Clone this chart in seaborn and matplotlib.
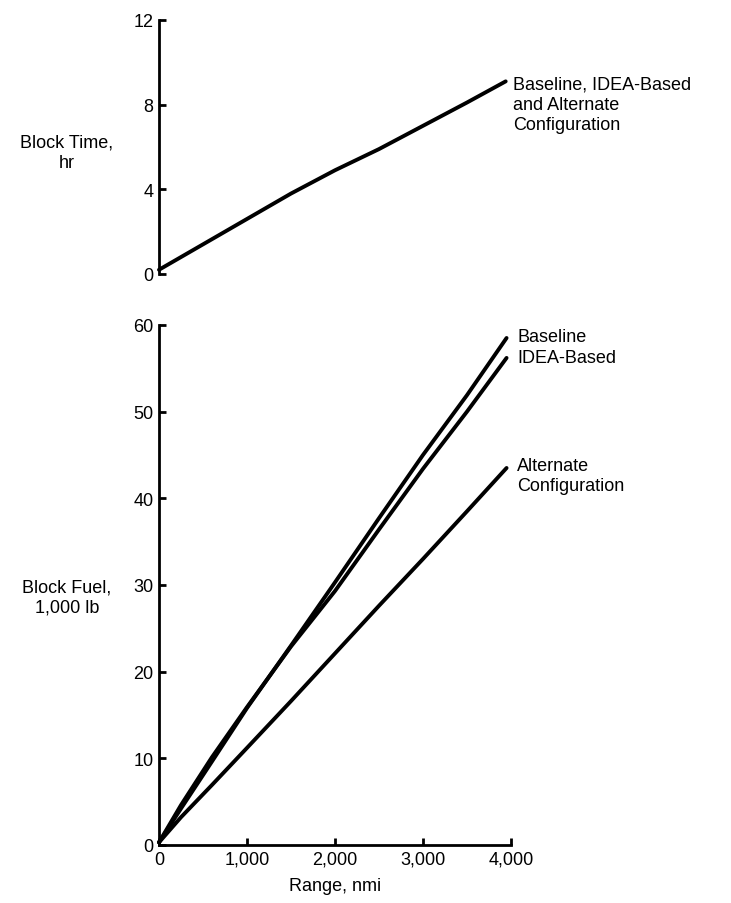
import matplotlib
matplotlib.use("Agg")
import matplotlib.pyplot as plt
import seaborn as sns
import pandas as pd

# ======================
# DATA
# ======================
time_range = [0, 500, 1000, 1500, 2000, 2500, 3000, 3500, 3940]
block_time = [0.2, 1.4, 2.6, 3.8, 4.9, 5.9, 7.0, 8.1, 9.1]

fuel_range = [0, 250, 600, 1000, 1500, 2000, 2500, 3000, 3500, 3950]
fuel_baseline = [0.3, 4.2, 9.6, 15.8, 23.0, 30.3, 37.7, 45.0, 51.9, 58.5]
fuel_idea = [0.3, 4.6, 10.1, 15.9, 22.9, 29.3, 36.4, 43.4, 50.0, 56.2]
fuel_alternate = [0.3, 3.2, 6.9, 11.2, 16.6, 22.1, 27.6, 33.0, 38.5, 43.5]

x_ticks = [0, 1000, 2000, 3000, 4000]
x_ticklabels = ["0", "1,000", "2,000", "3,000", "4,000"]
time_ticks = [0, 4, 8, 12]
fuel_ticks = [0, 10, 20, 30, 40, 50, 60]

# ======================
# STYLE
# ======================
sns.set_style("ticks")
plt.rcParams["font.family"] = ["Liberation Sans", "DejaVu Sans"]
plt.rcParams["font.size"] = 13
for key in ["text.color", "axes.labelcolor", "xtick.color", "ytick.color", "axes.edgecolor"]:
    plt.rcParams[key] = "black"

LW = 2.8
SPINE_W = 2.0
line_kw = dict(color="black", linewidth=LW, clip_on=False,
               solid_capstyle="round", solid_joinstyle="round")

fig = plt.figure(figsize=(7.31, 9.04), dpi=100)
ax_t = fig.add_axes([0.2175, 0.6958, 0.4815, 0.281])
ax_f = fig.add_axes([0.2175, 0.0642, 0.4815, 0.5752])

# ======================
# BLOCK TIME
# ======================
df_time = pd.DataFrame({"range": time_range, "time": block_time})
sns.lineplot(data=df_time, x="range", y="time", ax=ax_t, **line_kw)
ax_t.set_xlim(0, 4000)
ax_t.set_ylim(0, 12)
ax_t.set_yticks(time_ticks)
ax_t.set_yticklabels([str(t) for t in time_ticks])
ax_t.set_xticks([])
ax_t.set_xlabel("")
ax_t.set_ylabel("")
for s in ["top", "right", "bottom"]:
    ax_t.spines[s].set_visible(False)
ax_t.spines["left"].set_linewidth(SPINE_W)
ax_t.tick_params(axis="y", direction="in", length=5, width=SPINE_W, pad=4)
fig.text(67 / 731, 1 - 153 / 904, "Block Time,\nhr", ha="center", va="center",
         fontsize=13, linespacing=1.25)
ax_t.text(4025, 8.0, "Baseline, IDEA-Based\nand Alternate\nConfiguration",
          ha="left", va="center", fontsize=13, linespacing=1.25, clip_on=False)

# ======================
# BLOCK FUEL
# ======================
df_fuel = pd.DataFrame({
    "range": fuel_range * 3,
    "fuel": fuel_baseline + fuel_idea + fuel_alternate,
    "config": ["Baseline"] * len(fuel_range) + ["IDEA-Based"] * len(fuel_range)
              + ["Alternate"] * len(fuel_range),
})
sns.lineplot(data=df_fuel, x="range", y="fuel", units="config", estimator=None,
             ax=ax_f, **line_kw)
ax_f.set_xlim(0, 4000)
ax_f.set_ylim(0, 60)
ax_f.set_xticks(x_ticks)
ax_f.set_xticklabels(x_ticklabels)
ax_f.set_yticks(fuel_ticks)
ax_f.set_yticklabels([str(t) for t in fuel_ticks])
ax_f.set_xlabel("Range, nmi", fontsize=13, labelpad=7)
ax_f.set_ylabel("")
for s in ["top", "right"]:
    ax_f.spines[s].set_visible(False)
for s in ["left", "bottom"]:
    ax_f.spines[s].set_linewidth(SPINE_W)
ax_f.tick_params(axis="both", direction="in", length=5, width=SPINE_W, pad=4)
fig.text(67 / 731, 1 - 598 / 904, "Block Fuel,\n1,000 lb", ha="center", va="center",
         fontsize=13, linespacing=1.25)
ax_f.text(4070, 58.7, "Baseline", ha="left", va="center", fontsize=13, clip_on=False)
ax_f.text(4070, 56.2, "IDEA-Based", ha="left", va="center", fontsize=13, clip_on=False)
ax_f.text(4070, 42.6, "Alternate\nConfiguration", ha="left", va="center",
          fontsize=13, linespacing=1.25, clip_on=False)

fig.savefig("out.png", dpi=100)
plt.close(fig)
